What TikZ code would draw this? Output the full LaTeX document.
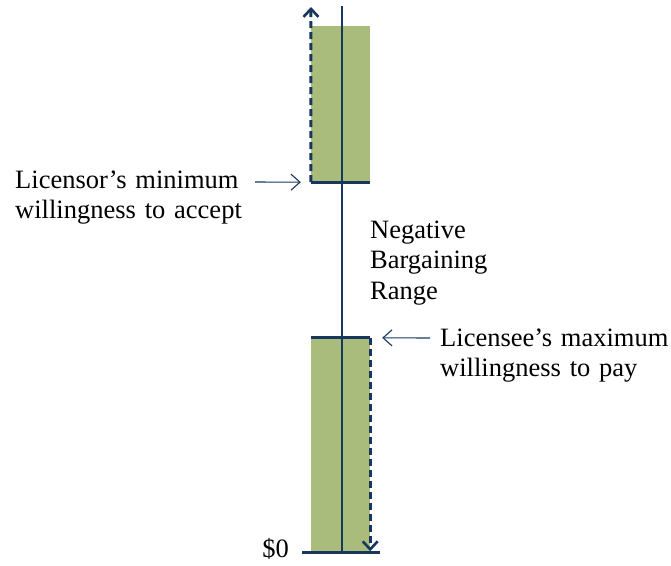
\documentclass[tikz,border=0pt]{standalone}
\usepackage{fontspec}
\setmainfont{Liberation Serif}
\usepackage{xcolor}
\usepackage{tikz}
\usetikzlibrary{
    positioning,
    calc,
    arrows.meta
}
\definecolor{barfill}{RGB}{169,188,124}
\definecolor{navy}{RGB}{23,55,94}
\tikzset{
  bar/.style = {
      rectangle,
      fill=barfill,
      draw=none,
      inner sep=0pt,
      minimum width=59pt
  },
  axis/.style = {
      draw=navy,
      line width=1.3pt
  },
  level/.style = {
      draw=navy,
      line width=3pt
  },
  reach/.style = {
      draw=navy,
      line width=3pt,
      dash pattern=on 7pt off 4pt,
      -{Straight Barb[length=8pt,width=15pt,line width=2.6pt]}
  },
  pointer/.style = {
      draw=navy,
      line width=1.1pt,
      -{Straight Barb[length=9pt,width=16pt,line width=1.1pt]}
  },
  caption/.style = {
      font=\fontsize{26.5}{30.5}\selectfont,
      inner sep=0pt,
      align=left,
      anchor=base west
  }
}
\begin{document}
\begin{tikzpicture}[x=1pt,y=-1pt]
        \useasboundingbox (0,0) rectangle (671,565);
        % Bars
        \node[bar, minimum height=156pt] (upper) at (340.5,104) {};
        \node[bar, minimum height=214pt] (lower) at (340.5,445) {};
        \coordinate (uptip) at (311,7);
        \coordinate (axtop) at (342,6);
        \coordinate (axbot) at (342,552);
        \coordinate (zl) at (302,552);
        \coordinate (zr) at (380,552);
        % Axis and levels
        \path[axis] (axtop) -- (axbot);
        \path[level] (upper.south west) -- (upper.south east);
        \path[level] (lower.north west) -- (lower.north east);
        \path[level] (zl) -- (zr);
        \path[reach] (upper.south west) -- (uptip);
        \path[reach] (lower.north east) -- ($(lower.south east)+(0,-1)$);
        % Labels
        \node[caption, text width=240pt] (lsr) at (15,188)
            {Licensor’s minimum\\willingness to accept};
        \node[caption, text width=120pt] (neg) at (370,238)
            {Negative\\Bargaining\\Range};
        \node[caption, text width=235pt] (lse) at (440,346)
            {Licensee’s maximum\\willingness to pay};
        \node[caption, anchor=base east] (zero) at (289,557) {\$0};
        \coordinate (lsrtail) at (255,182);
        \coordinate (lsetail) at (430,338);
        \path[pointer] (lsrtail) -- ($(upper.south west)+(-10,0)$);
        \path[pointer] (lsetail) -- ($(lower.north east)+(12,0)$);
    \end{tikzpicture}
\end{document}
